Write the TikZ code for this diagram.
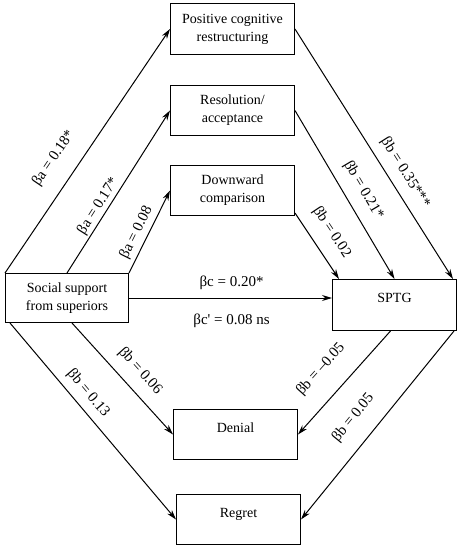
\documentclass[tikz,border=0pt]{standalone}
\usepackage{fontspec}
\setmainfont{Liberation Serif}
\usetikzlibrary{arrows.meta,calc}
\begin{document}
\begin{tikzpicture}[x=1pt,y=-1pt,
  box/.style={draw,line width=1pt,inner sep=0pt,anchor=north west,align=center,font=\rmfamily\fontsize{14}{18}\selectfont},
  twobox/.style={box,minimum width=124pt,minimum height=50pt},
  onebox/.style={box,text width=124pt,text height=23pt,text depth=27pt},
  arr/.style={line width=1pt,-{Stealth[length=10pt,width=6pt]}},
  lab/.style={font=\rmfamily\fontsize{15}{16}\selectfont,sloped,inner sep=0pt}]
\useasboundingbox (0,0) rectangle (459,550);
\node[twobox,minimum height=51pt] (pcr) at (170,3) {Positive cognitive\\restructuring};
\node[twobox] (res) at (170,85) {Resolution/\\acceptance};
\node[twobox] (dwn) at (170,165) {Downward\\comparison};
\node[twobox,minimum width=123pt,minimum height=49pt] (soc) at (5,273) {Social support\\from superiors};
\node[onebox,text depth=28pt] (sptg) at (332,279) {SPTG};
\node[onebox] (den) at (173,409) {Denial};
\node[onebox] (reg) at (176,494) {Regret};

\draw[arr] (soc.north west) -- node[lab,pos=0.415,above=16.5pt] {βa = 0.18*} (pcr.west);
\draw[arr] (soc.north) -- node[lab,pos=0.38,above=2pt] {βa = 0.17*} (res.west);
\draw[arr] (soc.north east) -- node[lab,pos=0.43,above=4pt] {βa = 0.08} (dwn.west);
\draw[arr] (pcr.east) -- node[lab,pos=0.61,above=9pt] {βb = 0.35***} ([xshift=-4pt]sptg.north east);
\draw[arr] (res.east) -- node[lab,pos=0.53,above=11pt] {βb = 0.21*} (sptg.north);
\draw[arr] ([yshift=3pt]dwn.south east) -- node[lab,pos=0.46,above=12.5pt] {βb = 0.02} ([xshift=7pt]sptg.north west);
\draw[arr] (soc.east) -- node[lab,pos=0.505,above=7.5pt] {βc = 0.20*} node[lab,pos=0.505,below=15pt] {βc\textquotesingle{} = 0.08 ns} (soc.east -| sptg.west);
\draw[arr] ([xshift=5pt]soc.south) -- node[lab,pos=0.54,above=11pt] {βb = 0.06} (den.west);
\draw[arr] ([xshift=5pt]soc.south west) -- node[lab,pos=0.405,above=7pt] {βb = 0.13} (reg.west);
\draw[arr] ([xshift=-4pt]sptg.south) -- node[lab,pos=0.54,above=19pt] {βb = –0.05} (den.east);
\draw[arr] ([xshift=-3pt]sptg.south east) -- node[lab,pos=0.54,above=16pt] {βb = 0.05} (reg.east);
\end{tikzpicture}
\end{document}
